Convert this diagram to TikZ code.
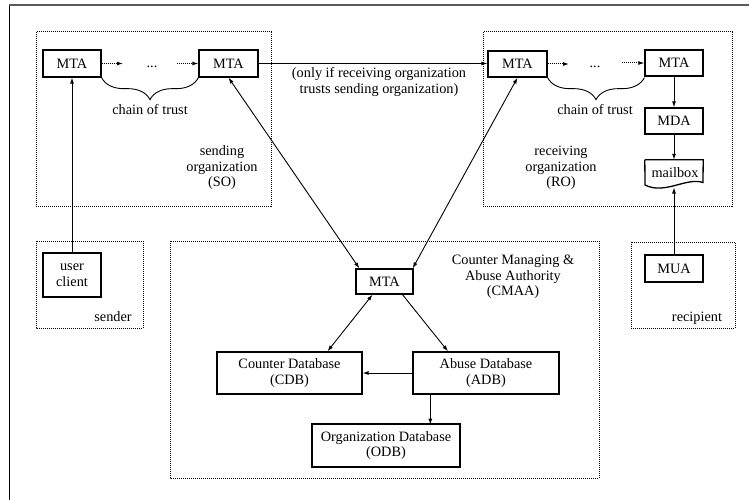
\documentclass[tikz,border=0pt]{standalone}
\usepackage{fontspec}
\setmainfont{Liberation Serif}
\usetikzlibrary{arrows.meta,decorations.pathreplacing,calc}
\begin{document}
\begin{tikzpicture}[x=1pt,y=-1pt,
  font=\fontsize{14.3}{15.5}\selectfont,
  box/.style={draw,line width=1.3pt,inner sep=0pt,align=center},
  region/.style={densely dotted,line width=1pt},
  conn/.style={line width=0.9pt,-{Latex[length=6pt,width=4pt]}},
  dconn/.style={line width=0.9pt,{Latex[length=6pt,width=4pt]}-{Latex[length=6pt,width=4pt]}},
  dotconn/.style={densely dotted,line width=1pt,-{Latex[length=6pt,width=4pt]}},
  brc/.style={decorate,decoration={brace,mirror,amplitude=22pt},line width=0.9pt},
  lbl/.style={align=center,inner sep=0pt}]
\useasboundingbox (0,0) rectangle (749,500);
% frame
\draw[line width=1pt] (9,500) -- (9,5.5);
\draw[line width=1.6pt,black!65] (8.5,5) -- (749,5);
% regions
\draw[region] (36,32) rectangle (271,206);
\draw[region] (483,32) rectangle (732,206);
\draw[region] (36,241) rectangle (143,328);
\draw[region] (631,242) rectangle (735,328);
\draw[region] (170,241) rectangle (599,478);
% nodes
\node[box,minimum width=58pt,minimum height=27pt] (so1) at (72,63.5) {MTA};
\node[box,minimum width=59pt,minimum height=27pt] (so2) at (228.5,63.5) {MTA};
\node[box,minimum width=59pt,minimum height=26pt] (ro1) at (517.5,64) {MTA};
\node[box,minimum width=58pt,minimum height=26pt] (ro2) at (674,63) {MTA};
\node[box,minimum width=58pt,minimum height=26pt] (mda) at (674,121) {MDA};
\node[box,minimum width=58pt,minimum height=27pt] (mua) at (674,268.5) {MUA};
\node[box,minimum width=58pt,minimum height=44pt] (uc) at (72,275) {user\\client};
\node[box,minimum width=57pt,minimum height=25pt] (cmta) at (384.5,281.5) {MTA};
\node[box,minimum width=145pt,minimum height=42pt] (cdb) at (289.5,373) {Counter Database\\(CDB)};
\node[box,minimum width=146pt,minimum height=42pt] (adb) at (486,373) {Abuse Database\\(ADB)};
\node[box,minimum width=148pt,minimum height=43pt] (odb) at (386,445.5) {Organization Database\\(ODB)};
% mailbox (document shape)
\node[inner sep=0pt,minimum width=58pt,minimum height=28pt] (mb) at (674,174) {};
\node[inner sep=0pt] (mbt) at (675,173) {mailbox};
\draw[line width=1.3pt] (mb.north west) -- (mb.north east) -- (703,182.5)
  .. controls (686,177) and (665,195) .. (645,185) -- (mb.north west);
\coordinate (mbb) at (674,187.5);
% labels
\node[lbl] (ct1) at (150,110) {chain of trust};
\node[lbl] (ct2) at (595,110) {chain of trust};
\node[lbl] (solbl) at (222,168) {sending\\organization\\(SO)};
\node[lbl] (rolbl) at (561,168) {receiving\\organization\\(RO)};
\node[lbl] (cmaalbl) at (513,277) {Counter Managing \&\\Abuse Authority\\(CMAA)};
\node[lbl] (sndlbl) at (113,317) {sender};
\node[lbl] (rcplbl) at (697,318) {recipient};
\node[lbl] (trust) at (379,82) {(only if receiving organization\\trusts sending organization)};
\node[lbl,anchor=base] (d1) at (152,67.5) {...};
\node[lbl,anchor=base] (d2) at (595,67.5) {...};
% chains
\coordinate (a1) at (123,63.5);
\coordinate (a2) at (177,63.5);
\coordinate (b1) at (569,64);
\coordinate (b2) at (622,64);
\draw[dotconn] (so1.east) -- (a1);
\draw[dotconn] (a2) -- (so2.west);
\draw[dotconn] (ro1.east) -- (b1);
\draw[dotconn] ($(b2)+(0,-1)$) -- ($(ro2.west)+(0,0)$);
\draw[brc] (so1.south east) -- (so2.south west);
\draw[brc] (ro1.south east) -- ($(ro2.south west)+(0,1)$);
% connectors
\draw[conn] (so2.east) -- (ro1.west |- so2.east);
\draw[conn] (uc.north) -- (so1.south);
\draw[dconn] (so2.south) -- ($(cmta.north west)+(4,0)$);
\draw[dconn] (ro1.south) -- ($(cmta.north east)+(-1,0)$);
\draw[conn] (ro2.south) -- (mda.north);
\draw[conn] (mda.south) -- (mb.north);
\draw[conn] (mua.north) -- (mbb);
\draw[dconn] ($(cmta.south)+(-12,0)$) -- ($(cdb.north)+(38,0)$);
\draw[conn] ($(cmta.south)+(18,0)$) -- ($(adb.north)+(-38,0)$);
\draw[conn] (adb.west) -- (cdb.east);
\draw[conn] ($(adb.south west)+(18,0)$) -- ($(adb.south west)+(18,30)$);
\end{tikzpicture}
\end{document}
